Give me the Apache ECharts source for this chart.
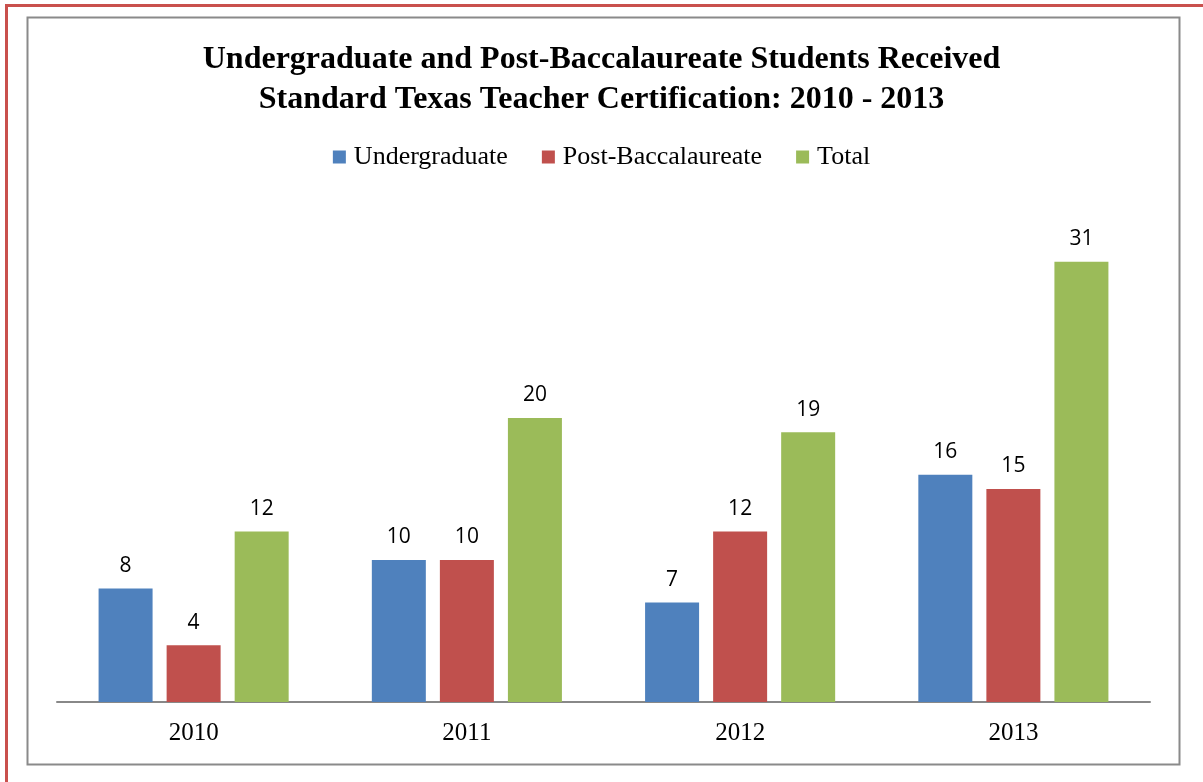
<!DOCTYPE html>
<html><head><meta charset="utf-8">
<script src="https://cdn.jsdelivr.net/npm/echarts@6/dist/echarts.min.js"></script>
<style>html,body{margin:0;padding:0;background:#fff}#c{width:1203px;height:782px}</style>
</head><body><div id="c"></div>
<script>
const categories = ['2010','2011','2012','2013'];
const undergraduate = [8,10,7,16];
const postBacc = [4,10,12,15];
const total = [12,20,19,31];
const seriesNames = ['Undergraduate','Post-Baccalaureate','Total'];
const colors = ['#4F81BD','#C0504D','#9BBB59'];
const titleLines = 'Undergraduate and Post-Baccalaureate Students Received\nStandard Texas Teacher Certification: 2010 - 2013';

const chart = echarts.init(document.getElementById('c'));
const label = {show:true, position:'top', distance:12, color:'#000', fontFamily:'Open Sans', fontSize:21};
chart.setOption({
  animation:false,
  color: colors,
  title:{text:titleLines, left:'center', top:35, itemGap:0,
    textStyle:{fontFamily:'Liberation Serif', fontWeight:'bold', fontSize:32, lineHeight:40, color:'#000'}},
  legend:{top:139, left:'center', icon:'rect', itemWidth:13, itemHeight:13, itemGap:34, itemStyle:{borderWidth:0},
    textStyle:{fontFamily:'Liberation Serif', fontSize:26, color:'#000', padding:[0,0,0,3]}, data:seriesNames},
  grid:{left:57, right:53, top:205, bottom:80},
  xAxis:{type:'category', data:categories, axisTick:{show:false},
    axisLine:{lineStyle:{color:'#888', width:2}},
    axisLabel:{fontFamily:'Liberation Serif', fontSize:25, color:'#000', margin:19}},
  yAxis:{type:'value', min:0, max:35, show:false, splitLine:{show:false}},
  graphic:[
    {type:'rect', shape:{x:6.5, y:5.5, width:1220, height:800}, style:{fill:'none', stroke:'#C9504D', lineWidth:3}, silent:true},
    {type:'rect', shape:{x:27.5, y:17.5, width:1152, height:747}, style:{fill:'none', stroke:'#8a8a8a', lineWidth:2}, silent:true}
  ],
  series:[
    {name:seriesNames[0], type:'bar', data:undergraduate, barWidth:54, barGap:'26%', label},
    {name:seriesNames[1], type:'bar', data:postBacc, barWidth:54, barGap:'26%', label},
    {name:seriesNames[2], type:'bar', data:total, barWidth:54, barGap:'26%', label}
  ]
});
</script></body></html>
